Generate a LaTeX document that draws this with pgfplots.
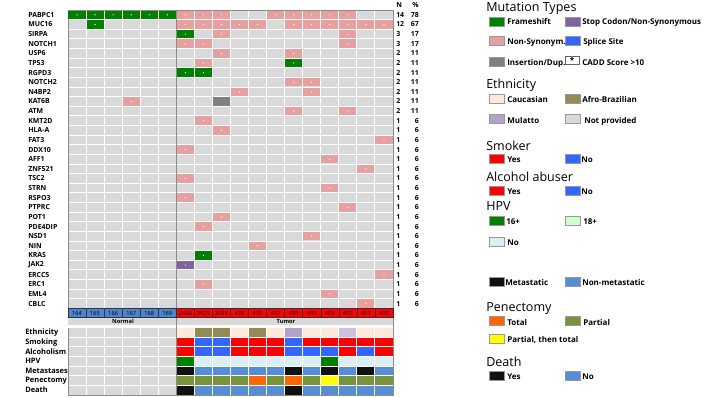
\documentclass[border=0pt]{standalone}
\usepackage{pgfplots}
\pgfplotsset{compat=1.18}
\usepackage{fontspec}
\setmainfont{Open Sans}
\definecolor{bggray}{RGB}{217,217,217}
\definecolor{fsgreen}{RGB}{0,128,0}
\definecolor{nspink}{RGB}{230,160,160}
\definecolor{insgray}{RGB}{128,128,128}
\definecolor{stoppurple}{RGB}{128,100,162}
\definecolor{spliceblue}{RGB}{51,102,255}
\definecolor{cauc}{RGB}{253,233,217}
\definecolor{afro}{RGB}{148,138,84}
\definecolor{mulatto}{RGB}{179,162,199}
\definecolor{mulattolt}{RGB}{204,192,218}
\definecolor{yesred}{RGB}{255,0,0}
\definecolor{noblue}{RGB}{51,102,255}
\definecolor{hpvno}{RGB}{219,238,244}
\definecolor{hpvgreen}{RGB}{0,128,0}
\definecolor{hpv18}{RGB}{204,255,204}
\definecolor{metblue}{RGB}{85,142,213}
\definecolor{metblack}{RGB}{17,17,17}
\definecolor{olivep}{RGB}{119,147,60}
\definecolor{orangep}{RGB}{255,102,0}
\definecolor{yellowp}{RGB}{255,255,0}
\definecolor{normblue}{RGB}{74,134,208}

\pgfdeclareplotmark{cell}{%
  \pgfpathrectangle{\pgfpoint{-6.4pt}{-3.25pt}}{\pgfpoint{12.8pt}{6.5pt}}\pgfusepathqfill}
\pgfdeclareplotmark{mut}{%
  \pgfpathrectangle{\pgfpoint{-6.4pt}{-3.15pt}}{\pgfpoint{12.8pt}{6.3pt}}\pgfusepathqfill
  \begin{pgfscope}\pgfsetfillcolor{white}\pgfpathcircle{\pgfpointorigin}{0.5pt}\pgfusepathqfill\end{pgfscope}}
\pgfdeclareplotmark{lab}{%
  \pgfpathrectangle{\pgfpoint{-6.77pt}{-3.4pt}}{\pgfpoint{13.54pt}{6.8pt}}\pgfusepathqfillstroke}

\newcommand{\glfont}{\fontsize{5.2pt}{6.2pt}\selectfont\bfseries}
\newcommand{\nfont}{\fontsize{5.2pt}{6pt}\selectfont\bfseries}
\newcommand{\anfont}{\fontsize{5.6pt}{6.6pt}\selectfont\bfseries}
\newcommand{\smfont}{\fontsize{4.3pt}{5pt}\selectfont}
\newcommand{\lgfont}{\fontsize{6pt}{7pt}\selectfont\bfseries}
\newcommand{\ttfont}{\fontsize{9.4pt}{11pt}\selectfont}

\begin{document}
\begin{tikzpicture}
\begin{axis}[
  at={(51pt,-7.5pt)}, anchor=north west,
  scale only axis, width=243.75pt, height=288.75pt,
  xmin=-0.5, xmax=17.5, ymin=-0.5, ymax=39.5, y dir=reverse,
  axis background/.style={fill=bggray},
  xtick={-0.5,0.5,...,17.5}, ytick={-0.5,0.5,...,39.5},
  xticklabels={}, yticklabels={}, tick style={draw=none},
  grid=major, major grid style={white, line width=0.75pt},
  axis line style={draw=black!45, line width=0.6pt},
]
% Normal / Tumor band
\fill[bggray] (axis cs:-0.5,31.55) rectangle (axis cs:17.5,32.2);
\fill[white] (axis cs:-0.5,32.2) rectangle (axis cs:17.5,32.5);

% sample label row
\addplot[only marks, mark=lab, mark options={fill=normblue, draw=black!80, line width=0.4pt}] coordinates {
(0,31) (1,31) (2,31) (3,31) (4,31) (5,31)};
\addplot[only marks, mark=lab, mark options={fill=yesred, draw=black!80, line width=0.4pt}] coordinates {
(6,31) (7,31) (8,31) (9,31) (10,31) (11,31) (12,31) (13,31) (14,31) (15,31) (16,31) (17,31)};

% mutations: frameshift
\addplot[only marks, mark=mut, color=fsgreen] coordinates {
(0,0) (1,0) (2,0) (3,0) (4,0) (5,0) (1,1) (6,2) (6,6) (7,6) (12,5) (7,25)};
% non-synonymous
\addplot[only marks, mark=mut, color=nspink] coordinates {
(6,0) (7,0) (8,0) (11,0) (12,0) (13,0) (14,0) (15,0)
(6,1) (7,1) (8,1) (9,1) (10,1) (12,1) (13,1) (14,1) (15,1) (16,1) (17,1)
(8,2) (15,2)
(6,3) (7,3) (15,3)
(8,4) (12,4)
(7,5)
(12,7) (13,7)
(9,8) (13,8)
(3,9)
(12,10) (15,10)
(7,11) (8,12) (17,13) (6,14) (14,15) (16,16) (6,17) (14,18) (6,19) (15,20)
(8,21) (7,22) (13,23) (10,24) (17,27) (7,28) (14,29) (16,30)};
% insertion / duplication
\addplot[only marks, mark=cell, color=insgray] coordinates {(8,9)};
% stop codon
\addplot[only marks, mark=mut, color=stoppurple] coordinates {(6,26)};

% annotation rows
\addplot[only marks, mark=cell, color=cauc] coordinates {(6,33) (9,33) (11,33) (13,33) (14,33) (16,33) (17,33)};
\addplot[only marks, mark=cell, color=afro] coordinates {(7,33) (8,33) (10,33)};
\addplot[only marks, mark=cell, color=mulatto] coordinates {(12,33)};
\addplot[only marks, mark=cell, color=mulattolt] coordinates {(15,33)};
\addplot[only marks, mark=cell, color=yesred] coordinates {
(6,34) (9,34) (10,34) (11,34) (13,34) (14,34) (15,34) (16,34) (17,34)
(6,35) (9,35) (10,35) (11,35) (15,35) (17,35)};
\addplot[only marks, mark=cell, color=noblue] coordinates {
(7,34) (8,34) (12,34)
(7,35) (8,35) (12,35) (13,35) (14,35) (16,35)};
\addplot[only marks, mark=cell, color=hpvgreen] coordinates {(6,36) (14,36)};
\addplot[only marks, mark=cell, color=hpvno] coordinates {
(7,36) (8,36) (9,36) (10,36) (11,36) (12,36) (13,36) (15,36) (16,36) (17,36)};
\addplot[only marks, mark=cell, color=metblack] coordinates {
(6,37) (12,37) (14,37) (16,37) (6,39) (12,39)};
\addplot[only marks, mark=cell, color=metblue] coordinates {
(7,37) (8,37) (9,37) (10,37) (11,37) (13,37) (15,37) (17,37)
(7,39) (8,39) (9,39) (10,39) (11,39) (13,39) (14,39) (15,39) (16,39) (17,39)};
\addplot[only marks, mark=cell, color=olivep] coordinates {
(6,38) (7,38) (8,38) (9,38) (11,38) (13,38) (15,38) (16,38) (17,38)};
\addplot[only marks, mark=cell, color=orangep] coordinates {(10,38) (12,38)};
\addplot[only marks, mark=cell, color=yellowp] coordinates {(14,38)};

% separator
\draw[black!45, line width=0.6pt] (axis cs:5.5,-0.5) -- (axis cs:5.5,39.5);
\end{axis}

\begin{scope}[x=0.75pt, y=-0.75pt]
% gene labels
\foreach \g [count=\i from 0] in {PABPC1,MUC16,SIRPA,NOTCH1,USP6,TP53,RGPD3,NOTCH2,N4BP2,KAT6B,ATM,KMT2D,HLA-A,FAT3,DDX10,AFF1,ZNF521,TSC2,STRN,RSPO3,PTPRC,POT1,PDE4DIP,NSD1,NIN,KRAS,JAK2,ERCC5,ERC1,EML4,CBLC}
  \node[anchor=west, inner sep=0pt, font=\glfont] at (28,{10+9.625*(\i+0.5)}) {\g};
% N and %
\node[anchor=west, inner sep=0pt, font=\nfont] at (396,5) {N};
\node[anchor=west, inner sep=0pt, font=\nfont] at (412,5) {\%};
\foreach \n/\p [count=\i from 0] in {14/78,12/67,3/17,3/17,2/11,2/11,2/11,2/11,2/11,2/11,2/11,1/6,1/6,1/6,1/6,1/6,1/6,1/6,1/6,1/6,1/6,1/6,1/6,1/6,1/6,1/6,1/6,1/6,1/6,1/6,1/6} {
  \node[anchor=west, inner sep=0pt, font=\nfont] at (396,{10+9.625*(\i+0.5)}) {\n};
  \node[anchor=east, inner sep=0pt, font=\nfont] at (419,{10+9.625*(\i+0.5)}) {\p};
}
% sample labels
\foreach \s [count=\i from 0] in {164,165,166,167,168,169,2424,2425,2426,433,435,437,439,443,453,455,457,459}
  \node[inner sep=0pt, font=\smfont] at ({68+18.0556*(\i+0.5)},313.4) {\s};
\node[inner sep=0pt, font=\smfont\bfseries] at (123,321.5) {Normal};
\node[inner sep=0pt, font=\smfont\bfseries] at (286,321.5) {Tumor};
% annotation labels
\foreach \a [count=\i from 33] in {Ethnicity,Smoking,Alcoholism,HPV,Metastases,Penectomy,Death}
  \node[anchor=west, inner sep=0pt, font=\anfont] at (25,{10+9.625*(\i+0.5)}) {\a};

% legend
\tikzset{lbox/.style={draw=black!40, line width=0.3pt},
  lt/.style={anchor=west, inner sep=0pt, font=\lgfont, text height=1.6ex, text depth=0.3ex},
  tt/.style={anchor=west, inner sep=0pt, font=\ttfont, text height=1.6ex, text depth=0.4ex}}
\node[tt] at (486,7) {Mutation Types};
\fill[fsgreen, lbox] (489,17) rectangle ++(15,9);  \node[lt] at (507,20) {Frameshift};
\fill[stoppurple, lbox] (565,17) rectangle ++(15,9); \node[lt] at (582,20) {Stop Codon/Non-Synonymous};
\fill[nspink, lbox] (489,36) rectangle ++(15,9);  \node[lt] at (507,40) {Non-Synonym.};
\fill[spliceblue, lbox] (565,36) rectangle ++(15,9); \node[lt] at (583,40) {Splice Site};
\fill[insgray, lbox] (489,57) rectangle ++(15,9);  \node[lt] at (507,61) {Insertion/Dup.};
\filldraw[fill=white, draw=black!60, line width=0.3pt] (565,56) rectangle ++(14,8);
\node[inner sep=0pt, font=\lgfont] at (572,60) {*};
\node[lt] at (582,61) {CADD Score >10};

\node[tt] at (486,84) {Ethnicity};
\fill[cauc, lbox] (489,94) rectangle ++(15,9);  \node[lt] at (507,98) {Caucasian};
\fill[afro, lbox] (565,94) rectangle ++(15,9);  \node[lt] at (582,98) {Afro-Brazilian};
\fill[mulatto, lbox] (489,114) rectangle ++(15,9);  \node[lt] at (507,118.5) {Mulatto};
\fill[bggray, lbox] (565,114) rectangle ++(15,9);  \node[lt] at (584,118.5) {Not provided};

\node[tt] at (486,146) {Smoker};
\fill[yesred, lbox] (489,154) rectangle ++(15,9);  \node[lt] at (507,158) {Yes};
\fill[noblue, lbox] (565,154) rectangle ++(15,9);  \node[lt] at (581,158) {No};

\node[tt] at (486,177) {Alcohol abuser};
\fill[yesred, lbox] (489,186) rectangle ++(15,9);  \node[lt] at (507,190) {Yes};
\fill[noblue, lbox] (565,186) rectangle ++(15,9);  \node[lt] at (581,190) {No};

\node[tt] at (486,206) {HPV};
\fill[hpvgreen, lbox] (489,216) rectangle ++(15,9);  \node[lt] at (506,220) {16+};
\fill[hpv18, lbox] (565,216) rectangle ++(15,9);  \node[lt] at (583,220) {18+};
\fill[hpvno, lbox] (489,237) rectangle ++(15,9);  \node[lt] at (507,241) {No};

\fill[metblack, lbox] (489,277) rectangle ++(15,9);  \node[lt] at (505,281) {Metastatic};
\fill[metblue, lbox] (565,277) rectangle ++(15,9);  \node[lt] at (582,281) {Non-metastatic};

\node[tt] at (486,307) {Penectomy};
\fill[orangep, lbox] (489,316) rectangle ++(15,9);  \node[lt] at (507,321) {Total};
\fill[olivep, lbox] (565,316) rectangle ++(15,9);  \node[lt] at (583,321) {Partial};
\fill[yellowp, lbox] (489,334) rectangle ++(15,9);  \node[lt] at (507,338) {Partial, then total};

\node[tt] at (486,362) {Death};
\fill[metblack, lbox] (489,371) rectangle ++(15,9);  \node[lt] at (507,375) {Yes};
\fill[metblue, lbox] (565,371) rectangle ++(15,9);  \node[lt] at (582,375) {No};

\pgfresetboundingbox
\path[use as bounding box] (0,0) rectangle (706,397);
\end{scope}
\end{tikzpicture}
\end{document}
